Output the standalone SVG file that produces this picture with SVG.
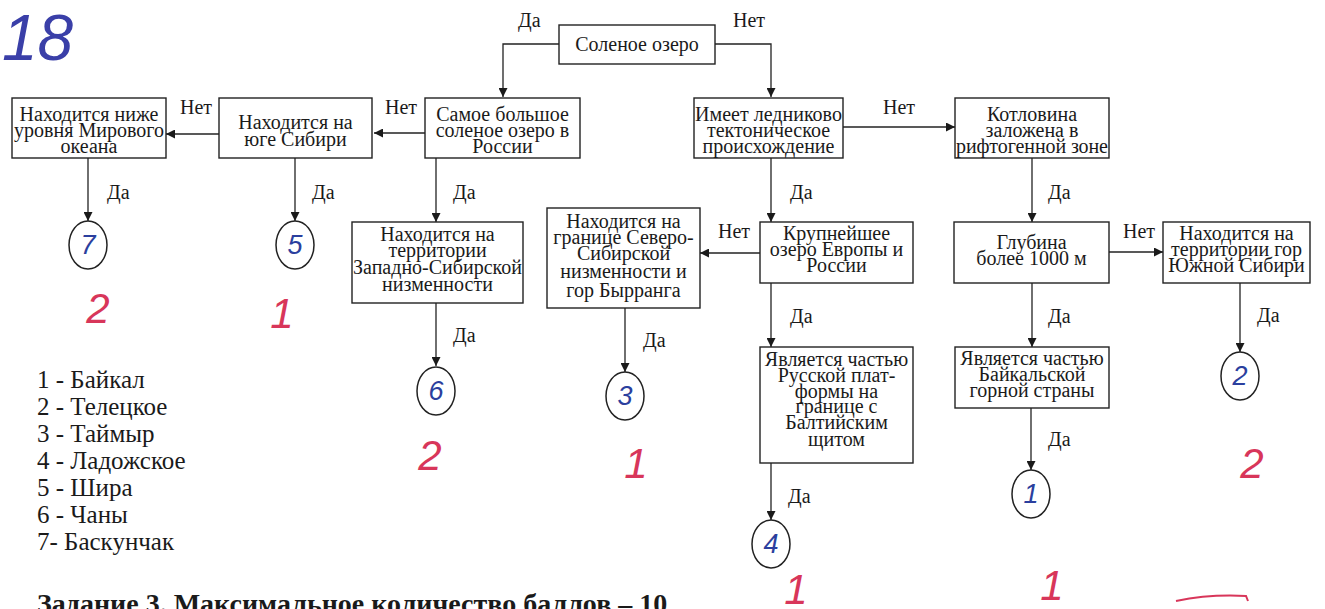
<svg xmlns="http://www.w3.org/2000/svg" width="1325" height="609" viewBox="0 0 1325 609">
<defs>
<marker id="ah" viewBox="0 0 10 10" refX="10" refY="5" markerWidth="9" markerHeight="9" markerUnits="userSpaceOnUse" orient="auto">
<path d="M0,0 L10,5 L0,10 z" fill="#1a1a1a"/>
</marker>
</defs>
<style>
.bx{fill:#fff;stroke:#222;stroke-width:1.4}
.t{font-family:"Liberation Serif","DejaVu Serif",serif;font-size:20px;fill:#1a1a1a;text-anchor:middle}
.lb{font-family:"Liberation Serif","DejaVu Serif",serif;font-size:20px;fill:#1a1a1a}
.lg{font-family:"Liberation Serif","DejaVu Serif",serif;font-size:25px;fill:#1a1a1a}
.hd{font-family:"Liberation Serif","DejaVu Serif",serif;font-size:28px;font-weight:bold;fill:#1a1a1a}
.c{fill:#fff;stroke:#222;stroke-width:1.5}
.bl{font-family:"Liberation Sans",Arial,sans-serif;font-style:italic;font-size:27px;fill:#2b3f9e;text-anchor:middle}
.rd{font-family:"Liberation Sans",Arial,sans-serif;font-style:italic;font-size:42px;fill:#d8365a;text-anchor:middle}
.cn{fill:none;stroke:#222;stroke-width:1.3}
</style>
<rect width="1325" height="609" fill="#ffffff"/>

<g id="connectors">
<path class="cn" d="M559,44 H503 V97" marker-end="url(#ah)"/>
<path class="cn" d="M715,44 H771 V97" marker-end="url(#ah)"/>
<path class="cn" d="M425,133 H374" marker-end="url(#ah)"/>
<path class="cn" d="M219,134 H166" marker-end="url(#ah)"/>
<path class="cn" d="M88,158 V221" marker-end="url(#ah)"/>
<path class="cn" d="M295,158 V221" marker-end="url(#ah)"/>
<path class="cn" d="M436,158 V222" marker-end="url(#ah)"/>
<path class="cn" d="M436,303 V366" marker-end="url(#ah)"/>
<path class="cn" d="M771,158 V222" marker-end="url(#ah)"/>
<path class="cn" d="M843,127 H955" marker-end="url(#ah)"/>
<path class="cn" d="M1032,158 V222" marker-end="url(#ah)"/>
<path class="cn" d="M760,253 H700" marker-end="url(#ah)"/>
<path class="cn" d="M625,308 V372" marker-end="url(#ah)"/>
<path class="cn" d="M771,283 V347" marker-end="url(#ah)"/>
<path class="cn" d="M771,463 V520" marker-end="url(#ah)"/>
<path class="cn" d="M1109,252 H1163" marker-end="url(#ah)"/>
<path class="cn" d="M1032,283 V347" marker-end="url(#ah)"/>
<path class="cn" d="M1031,408 V470" marker-end="url(#ah)"/>
<path class="cn" d="M1240,283 V352" marker-end="url(#ah)"/>
<text class="lb" x="518" y="27">Да</text>
<text class="lb" x="733" y="27">Нет</text>
<text class="lb" x="180" y="114">Нет</text>
<text class="lb" x="385" y="114">Нет</text>
<text class="lb" x="883" y="114">Нет</text>
<text class="lb" x="107" y="199">Да</text>
<text class="lb" x="312" y="199">Да</text>
<text class="lb" x="453" y="199">Да</text>
<text class="lb" x="790" y="199">Да</text>
<text class="lb" x="1048" y="199">Да</text>
<text class="lb" x="718" y="238">Нет</text>
<text class="lb" x="1123" y="238">Нет</text>
<text class="lb" x="453" y="342">Да</text>
<text class="lb" x="643" y="347">Да</text>
<text class="lb" x="790" y="323">Да</text>
<text class="lb" x="1048" y="323">Да</text>
<text class="lb" x="1257" y="322">Да</text>
<text class="lb" x="788" y="503">Да</text>
<text class="lb" x="1048" y="446">Да</text>
</g>

<g id="n-salt">
<rect class="bx" x="559" y="25" width="156" height="39"/>
<text class="t" x="637" y="51">Соленое озеро</text>
</g>
<g id="n-largest-salt">
<rect class="bx" x="425" y="98" width="155" height="60"/>
<text class="t" x="502.5" y="121">Самое большое</text>
<text class="t" x="502.5" y="137">соленое озеро в</text>
<text class="t" x="502.5" y="153">России</text>
</g>
<g id="n-south-siberia">
<rect class="bx" x="219" y="98" width="153" height="60"/>
<text class="t" x="295.5" y="129">Находится на</text>
<text class="t" x="295.5" y="146">юге Сибири</text>
</g>
<g id="n-below-sea">
<rect class="bx" x="12" y="98" width="154" height="60"/>
<text class="t" x="89" y="121">Находится ниже</text>
<text class="t" x="89" y="137">уровня Мирового</text>
<text class="t" x="89" y="153">океана</text>
</g>
<g id="n-glacial">
<rect class="bx" x="694" y="98" width="149" height="60"/>
<text class="t" x="768.5" y="121">Имеет ледниково</text>
<text class="t" x="768.5" y="137">тектоническое</text>
<text class="t" x="768.5" y="153">происхождение</text>
</g>
<g id="n-rift">
<rect class="bx" x="955" y="98" width="154" height="60"/>
<text class="t" x="1032" y="121">Котловина</text>
<text class="t" x="1032" y="137">заложена в</text>
<text class="t" x="1032" y="153" textLength="152">рифтогенной зоне</text>
</g>
<g id="n-west-siberian">
<rect class="bx" x="352" y="222" width="171" height="81"/>
<text class="t" x="437.5" y="241">Находится на</text>
<text class="t" x="437.5" y="257">территории</text>
<text class="t" x="437.5" y="274">Западно-Сибирской</text>
<text class="t" x="437.5" y="291">низменности</text>
</g>
<g id="n-byrranga">
<rect class="bx" x="547" y="208" width="153" height="100"/>
<text class="t" x="623.5" y="228">Находится на</text>
<text class="t" x="623.5" y="244">границе Северо-</text>
<text class="t" x="623.5" y="260">Сибирской</text>
<text class="t" x="623.5" y="278">низменности и</text>
<text class="t" x="623.5" y="297">гор Бырранга</text>
</g>
<g id="n-largest-europe">
<rect class="bx" x="760" y="222" width="153" height="61"/>
<text class="t" x="836.5" y="240">Крупнейшее</text>
<text class="t" x="836.5" y="256">озеро Европы и</text>
<text class="t" x="836.5" y="272">России</text>
</g>
<g id="n-depth">
<rect class="bx" x="954" y="222" width="155" height="61"/>
<text class="t" x="1031.5" y="249">Глубина</text>
<text class="t" x="1031.5" y="265">более 1000 м</text>
</g>
<g id="n-south-mountains">
<rect class="bx" x="1163" y="222" width="147" height="61"/>
<text class="t" x="1236.5" y="240">Находится на</text>
<text class="t" x="1236.5" y="256">территории гор</text>
<text class="t" x="1236.5" y="272">Южной Сибири</text>
</g>
<g id="n-russian-platform">
<rect class="bx" x="760" y="347" width="153" height="116"/>
<text class="t" x="836.5" y="366">Является частью</text>
<text class="t" x="836.5" y="382">Русской плат-</text>
<text class="t" x="836.5" y="398">формы на</text>
<text class="t" x="836.5" y="413">границе с</text>
<text class="t" x="836.5" y="429">Балтийским</text>
<text class="t" x="836.5" y="446">щитом</text>
</g>
<g id="n-baikal-mountains">
<rect class="bx" x="955" y="347" width="154" height="61"/>
<text class="t" x="1032" y="365">Является частью</text>
<text class="t" x="1032" y="381">Байкальской</text>
<text class="t" x="1032" y="397">горной страны</text>
</g>

<g id="r7"><ellipse class="c" cx="88" cy="245" rx="19" ry="24"/><text class="bl" x="88" y="254">7</text></g>
<g id="r5"><ellipse class="c" cx="295" cy="245" rx="19" ry="24"/><text class="bl" x="295" y="254">5</text></g>
<g id="r6"><ellipse class="c" cx="436" cy="391" rx="19" ry="24"/><text class="bl" x="436" y="400">6</text></g>
<g id="r3"><ellipse class="c" cx="625" cy="396" rx="19" ry="24"/><text class="bl" x="625" y="405">3</text></g>
<g id="r4"><ellipse class="c" cx="771" cy="544" rx="19" ry="24"/><text class="bl" x="771" y="553">4</text></g>
<g id="r1"><ellipse class="c" cx="1031" cy="494" rx="19" ry="24"/><text class="bl" x="1031" y="503">1</text></g>
<g id="r2"><ellipse class="c" cx="1240" cy="376" rx="19" ry="24"/><text class="bl" x="1240" y="385">2</text></g>

<g id="legend">
<text class="lg" x="37" y="388">1 - Байкал</text>
<text class="lg" x="37" y="415">2 - Телецкое</text>
<text class="lg" x="37" y="442">3 - Таймыр</text>
<text class="lg" x="37" y="469">4 - Ладожское</text>
<text class="lg" x="37" y="496">5 - Шира</text>
<text class="lg" x="37" y="523">6 - Чаны</text>
<text class="lg" x="37" y="550">7- Баскунчак</text>
<text class="hd" x="37" y="613">Задание 3. Максимальное количество баллов – 10</text>
</g>

<g id="annotations">
<text x="2" y="60" style="font-family:'Liberation Sans',Arial,sans-serif;font-style:italic;font-size:64px;fill:#3a3fa8">18</text>
<text class="rd" x="98" y="323">2</text>
<text class="rd" x="282" y="328">1</text>
<text class="rd" x="430" y="470">2</text>
<text class="rd" x="636" y="478">1</text>
<text class="rd" x="796" y="604">1</text>
<text class="rd" x="1052" y="600">1</text>
<text class="rd" x="1252" y="478">2</text>
<path d="M1176,601 Q1210,594 1246,596 L1248,601" fill="none" stroke="#d8365a" stroke-width="2"/>
</g>
</svg>
